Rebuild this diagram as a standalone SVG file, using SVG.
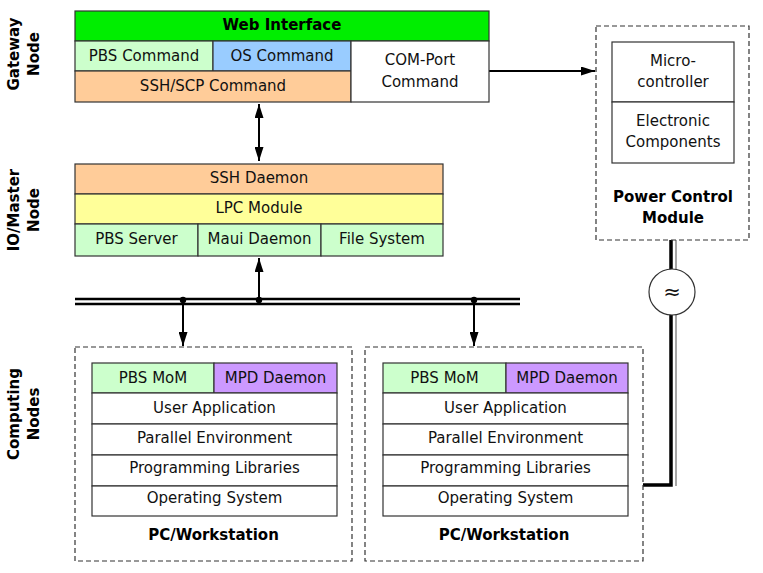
<svg xmlns="http://www.w3.org/2000/svg" width="763" height="573" viewBox="0 0 763 573">
<defs>
<style>
.b{stroke:#333;stroke-width:1.2}
.d{fill:none;stroke:#333;stroke-width:1.2;stroke-dasharray:5,3}
.t{font-family:"DejaVu Sans",Verdana,sans-serif;font-size:15px;fill:#111;text-anchor:middle}
.tb{font-family:"DejaVu Sans",Verdana,sans-serif;font-size:15px;font-weight:bold;fill:#000;text-anchor:middle}
.a{stroke:#000;stroke-width:2;fill:none}
.bus{stroke:#000;stroke-width:2.6;fill:none}
</style>
<marker id="ah" viewBox="0 0 10 10" refX="10" refY="5" markerWidth="7" markerHeight="4.5" orient="auto-start-reverse" markerUnits="strokeWidth" preserveAspectRatio="none">
<path d="M0,0 L10,5 L0,10 Z" fill="#000"/>
</marker>
</defs>
<rect width="763" height="573" fill="#fff"/>

<g id="labels">
<text class="tb" transform="translate(18.5,54) rotate(-90)">Gateway</text>
<text class="tb" transform="translate(38.5,54) rotate(-90)">Node</text>
<text class="tb" transform="translate(18.5,210) rotate(-90)">IO/Master</text>
<text class="tb" transform="translate(38.5,210) rotate(-90)">Node</text>
<text class="tb" transform="translate(18.5,414) rotate(-90)">Computing</text>
<text class="tb" transform="translate(38.5,414) rotate(-90)">Nodes</text>
</g>

<g id="connectors">
<line class="a" x1="259" y1="104" x2="259" y2="161" marker-start="url(#ah)" marker-end="url(#ah)"/>
<line class="a" x1="489" y1="71" x2="595" y2="71" marker-end="url(#ah)"/>
<line class="bus" x1="75" y1="299" x2="520" y2="299"/>
<line class="bus" x1="75" y1="304" x2="520" y2="304"/>
<line class="a" x1="259" y1="299" x2="259" y2="258" marker-end="url(#ah)"/>
<line class="a" x1="183" y1="299" x2="183" y2="346" marker-end="url(#ah)"/>
<line class="a" x1="474" y1="299" x2="474" y2="346" marker-end="url(#ah)"/>
<circle cx="183" cy="300" r="3.2" fill="#000"/>
<circle cx="259" cy="300" r="3.2" fill="#000"/>
<circle cx="474" cy="300" r="3.2" fill="#000"/>
<line x1="676" y1="240" x2="676" y2="486" stroke="#888" stroke-width="1.5"/>
<polyline points="671,240 671,485 643,485" fill="none" stroke="#000" stroke-width="3.5"/>
<circle cx="672" cy="292" r="23" fill="#fff" stroke="#333" stroke-width="1.2"/>
<text class="t" x="672" y="299" style="font-size:21px">≈</text>
</g>

<g id="gateway">
<rect class="b" x="75" y="11" width="414" height="30" fill="#00ee00"/>
<rect class="b" x="75" y="41" width="138" height="30" fill="#ccffcc"/>
<rect class="b" x="213" y="41" width="138" height="30" fill="#99ccff"/>
<rect class="b" x="75" y="71" width="276" height="31" fill="#ffcc99"/>
<rect class="b" x="351" y="41" width="138" height="61" fill="#fff"/>
<text class="tb" x="282" y="29.5">Web Interface</text>
<text class="t" x="144" y="60.5">PBS Command</text>
<text class="t" x="282" y="60.5">OS Command</text>
<text class="t" x="213" y="90.5">SSH/SCP Command</text>
<text class="t" x="420" y="64.5">COM-Port</text>
<text class="t" x="420" y="86.5">Command</text>
</g>

<g id="master">
<rect class="b" x="75" y="164" width="368" height="30" fill="#ffcc99"/>
<rect class="b" x="75" y="194" width="368" height="30" fill="#ffff99"/>
<rect class="b" x="75" y="224" width="123" height="32" fill="#ccffcc"/>
<rect class="b" x="198" y="224" width="123" height="32" fill="#ccffcc"/>
<rect class="b" x="321" y="224" width="122" height="32" fill="#ccffcc"/>
<text class="t" x="259" y="183">SSH Daemon</text>
<text class="t" x="259" y="213">LPC Module</text>
<text class="t" x="136.5" y="244">PBS Server</text>
<text class="t" x="259.5" y="244">Maui Daemon</text>
<text class="t" x="382" y="244">File System</text>
</g>

<g id="pcm">
<rect class="d" x="596" y="26" width="153" height="214"/>
<rect class="b" x="612" y="42" width="122" height="60" fill="#fff"/>
<rect class="b" x="612" y="102" width="122" height="61" fill="#fff"/>
<text class="t" x="673" y="66">Micro-</text>
<text class="t" x="673" y="87">controller</text>
<text class="t" x="673" y="126">Electronic</text>
<text class="t" x="673" y="147">Components</text>
<text class="tb" x="673" y="202">Power Control</text>
<text class="tb" x="673" y="223">Module</text>
</g>

<g id="pc1">
<rect class="d" x="75" y="347" width="277" height="214"/>
<rect class="b" x="92" y="363" width="122" height="30" fill="#ccffcc"/>
<rect class="b" x="214" y="363" width="123" height="30" fill="#cc99ff"/>
<rect class="b" x="92" y="393" width="245" height="31" fill="#fff"/>
<rect class="b" x="92" y="424" width="245" height="31" fill="#fff"/>
<rect class="b" x="92" y="455" width="245" height="31" fill="#fff"/>
<rect class="b" x="92" y="486" width="245" height="30" fill="#fff"/>
<text class="t" x="153" y="382.5">PBS MoM</text>
<text class="t" x="275.5" y="382.5">MPD Daemon</text>
<text class="t" x="214.5" y="413">User Application</text>
<text class="t" x="214.5" y="443">Parallel Environment</text>
<text class="t" x="214.5" y="473">Programming Libraries</text>
<text class="t" x="214.5" y="503">Operating System</text>
<text class="tb" x="213.5" y="540">PC/Workstation</text>
</g>

<g id="pc2">
<rect class="d" x="365" y="347" width="278" height="214"/>
<rect class="b" x="383" y="363" width="123" height="30" fill="#ccffcc"/>
<rect class="b" x="506" y="363" width="122" height="30" fill="#cc99ff"/>
<rect class="b" x="383" y="393" width="245" height="31" fill="#fff"/>
<rect class="b" x="383" y="424" width="245" height="31" fill="#fff"/>
<rect class="b" x="383" y="455" width="245" height="31" fill="#fff"/>
<rect class="b" x="383" y="486" width="245" height="30" fill="#fff"/>
<text class="t" x="444.5" y="382.5">PBS MoM</text>
<text class="t" x="567" y="382.5">MPD Daemon</text>
<text class="t" x="505.5" y="413">User Application</text>
<text class="t" x="505.5" y="443">Parallel Environment</text>
<text class="t" x="505.5" y="473">Programming Libraries</text>
<text class="t" x="505.5" y="503">Operating System</text>
<text class="tb" x="504" y="540">PC/Workstation</text>
</g>
</svg>
